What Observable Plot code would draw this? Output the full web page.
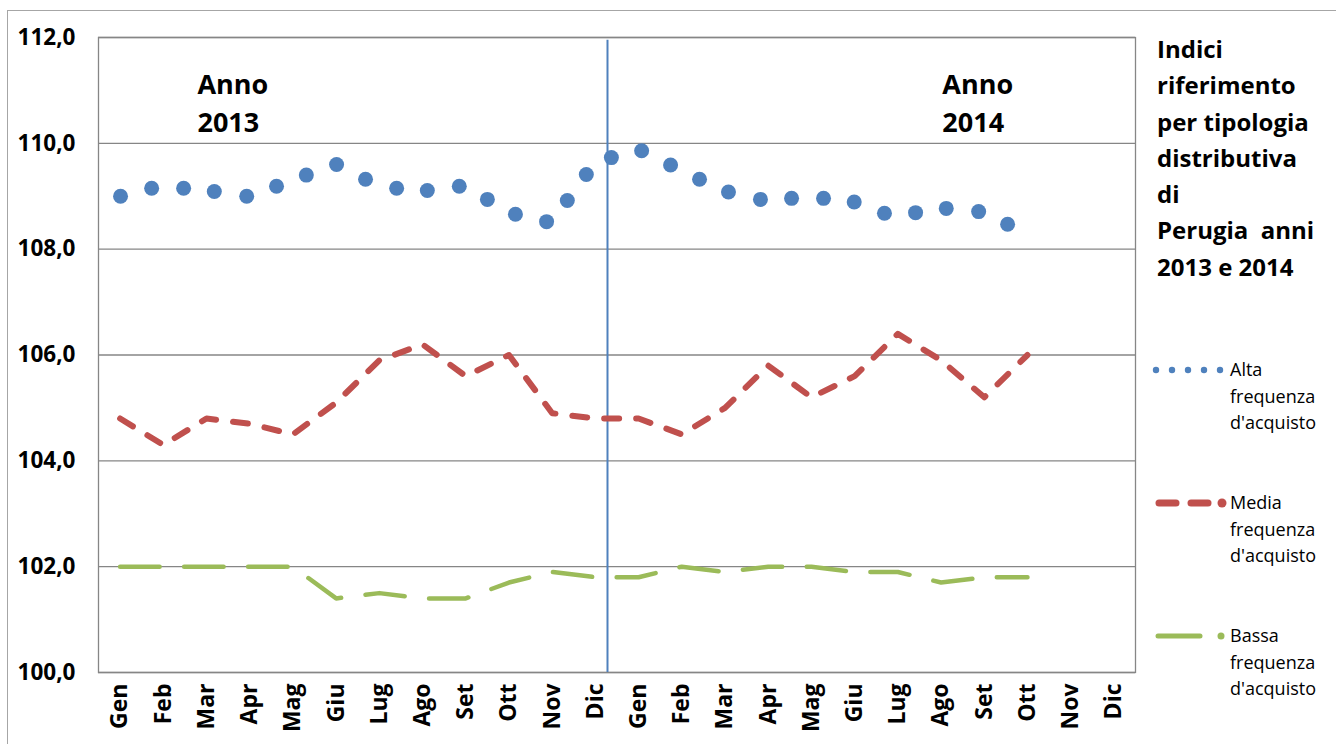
<!DOCTYPE html>
<html>
<head>
<meta charset="utf-8">
<script src="https://cdn.jsdelivr.net/npm/d3@7"></script>
<script src="https://cdn.jsdelivr.net/npm/@observablehq/plot@0.6"></script>
<style>
  body { margin: 0; background: #fff; }
  #wrap { position: relative; width: 1336px; height: 744px; overflow: hidden; font-family: "Open Sans", sans-serif; color: #000; }
  #border { position: absolute; left: 7px; top: 10px; width: 1400px; height: 800px; border: 1.5px solid #a6a6a6; box-sizing: border-box; }
  #chart { position: absolute; left: 0; top: 0; }
  #title { position: absolute; left: 1157px; top: 31px; font-weight: bold; font-size: 24px; line-height: 36.3px; white-space: pre; }
  .legtext { position: absolute; left: 1230px; font-size: 18px; line-height: 26.5px; white-space: pre; }
  #legsw { position: absolute; left: 1140px; top: 340px; }
</style>
</head>
<body>
<div id="wrap">
  <div id="border"></div>
  <div id="chart"></div>
  <div id="title"></div>
  <svg id="legsw" width="100" height="320"></svg>
</div>
<script>
// ---- data ----
const months = ["Gen","Feb","Mar","Apr","Mag","Giu","Lug","Ago","Set","Ott","Nov","Dic"];
const tickLabels = [...months, ...months]; // 2013 + 2014
const yTicks = [100, 102, 104, 106, 108, 110, 112];

const seriesNames = ["Alta\nfrequenza\nd'acquisto", "Media\nfrequenza\nd'acquisto", "Bassa\nfrequenza\nd'acquisto"];
const titleText = "Indici\nriferimento\nper tipologia\ndistributiva\ndi\nPerugia  anni\n2013 e 2014";

// Media frequenza: Gen 2013 .. Ott 2014
const media = [104.8, 104.3, 104.8, 104.7, 104.5, 105.1, 105.9, 106.2, 105.6, 106.0, 104.9, 104.8,
               104.8, 104.5, 105.0, 105.8, 105.2, 105.6, 106.4, 105.9, 105.2, 106.0];
// Bassa frequenza: Gen 2013 .. Ott 2014
const bassa = [102.0, 102.0, 102.0, 102.0, 102.0, 101.4, 101.5, 101.4, 101.4, 101.7, 101.9, 101.8,
               101.8, 102.0, 101.9, 102.0, 102.0, 101.9, 101.9, 101.7, 101.8, 101.8];
// Alta frequenza: 31 points, placed on the month axis
const altaPos = [0.01, 0.73, 1.47, 2.18, 2.93, 3.62, 4.31, 5.01, 5.68, 6.40, 7.11, 7.85, 8.50, 9.15, 9.87,
                 10.35, 10.79, 11.37, 12.07, 12.74, 13.41, 14.08, 14.82, 15.54, 16.28, 16.99, 17.69,
                 18.41, 19.12, 19.87, 20.54];
const alta = [109.00, 109.15, 109.15, 109.09, 109.00, 109.19, 109.40, 109.60, 109.32, 109.15, 109.11,
              109.19, 108.94, 108.66, 108.52, 108.92, 109.41, 109.73, 109.86, 109.59, 109.32, 109.08,
              108.94, 108.96, 108.96, 108.89, 108.68, 108.69, 108.77, 108.71, 108.47];
const yearSplit = 11.28;

const blue = "#4f81bd", red = "#c0504d", green = "#9bbb59", grid = "#868686";

const chart = Plot.plot({
  width: 1140,
  height: 744,
  marginLeft: 98,
  marginRight: 5,
  marginTop: 37,
  marginBottom: 72,
  style: { fontFamily: "Open Sans, sans-serif", background: "transparent", color: "#000" },
  x: { domain: [-0.5, 23.5], axis: null },
  y: { domain: [100, 112], axis: null },
  marks: [
    Plot.gridY({ ticks: yTicks, stroke: grid, strokeOpacity: 1, strokeWidth: 1.3 }),
    Plot.frame({ stroke: grid, strokeWidth: 1.3 }),
    Plot.axisY({ ticks: yTicks, tickSize: 0, tickPadding: 23, fontSize: 22.5, fontWeight: "bold",
                 tickFormat: d => d.toFixed(1).replace(".", ",") }),
    Plot.axisX({ ticks: d3.range(tickLabels.length), tickSize: 0, tickPadding: 11, tickRotate: -90,
                 fontSize: 23, fontWeight: "bold", tickFormat: i => tickLabels[i] }),
    Plot.ruleX([yearSplit], { y1: 100, y2: 111.95, stroke: blue, strokeWidth: 2 }),
    Plot.line(bassa, { x: (d, i) => i, y: d => d, stroke: green, strokeWidth: 4.5,
                       strokeDasharray: "39.5,24.5", strokeLinecap: "round", strokeLinejoin: "round" }),
    Plot.line(media, { x: (d, i) => i, y: d => d, stroke: red, strokeWidth: 6,
                       strokeDasharray: "15,17", strokeLinecap: "round", strokeLinejoin: "round" }),
    Plot.dot(alta, { x: (d, i) => altaPos[i], y: d => d, r: 7.5, fill: blue, stroke: "none" }),
    Plot.text(["Anno\n2013"], { x: 1.79, y: 110.81, text: d => d, textAnchor: "start", lineAnchor: "middle",
                                fontSize: 27, fontWeight: "bold", lineHeight: 1.41, fill: "#000" }),
    Plot.text(["Anno\n2014"], { x: 19.03, y: 110.81, text: d => d, textAnchor: "start", lineAnchor: "middle",
                                fontSize: 27, fontWeight: "bold", lineHeight: 1.41, fill: "#000" })
  ]
});
document.getElementById("chart").append(chart);
document.getElementById("title").textContent = titleText;

// legend texts
const legTops = [356.2, 489.2, 622.2];
seriesNames.forEach((t, i) => {
  const div = document.createElement("div");
  div.className = "legtext";
  div.style.top = legTops[i] + "px";
  div.textContent = t;
  document.getElementById("wrap").append(div);
});

// legend swatches (svg offset: left 1140, top 340)
const sw = d3.select("#legsw");
[16, 32, 48, 64, 80].forEach(cx => sw.append("circle").attr("cx", cx).attr("cy", 30).attr("r", 3.2).attr("fill", blue));
sw.append("line").attr("x1", 19).attr("x2", 36).attr("y1", 163).attr("y2", 163)
  .attr("stroke", red).attr("stroke-width", 7).attr("stroke-linecap", "round");
sw.append("line").attr("x1", 51).attr("x2", 68).attr("y1", 163).attr("y2", 163)
  .attr("stroke", red).attr("stroke-width", 7).attr("stroke-linecap", "round");
sw.append("circle").attr("cx", 82).attr("cy", 163).attr("r", 4.5).attr("fill", red);
sw.append("line").attr("x1", 18).attr("x2", 60).attr("y1", 296).attr("y2", 296)
  .attr("stroke", green).attr("stroke-width", 5).attr("stroke-linecap", "round");
sw.append("circle").attr("cx", 81).attr("cy", 296).attr("r", 3.5).attr("fill", green);
</script>
</body>
</html>
